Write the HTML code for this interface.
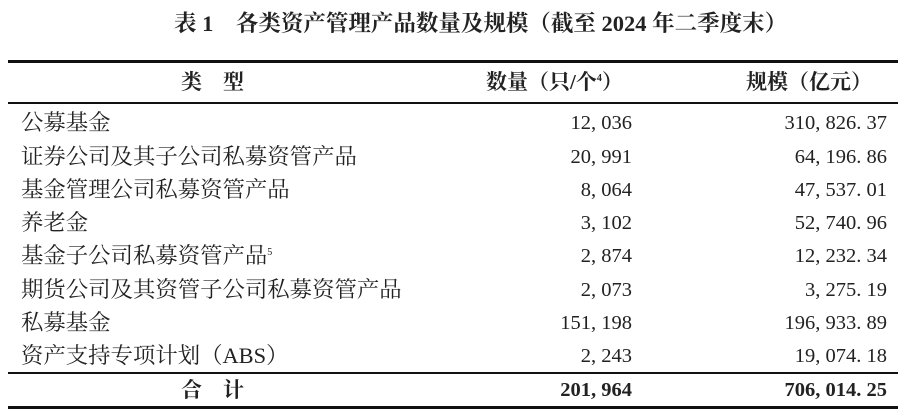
<!DOCTYPE html>
<html><head><meta charset="utf-8"><style>
body{margin:0;width:908px;height:420px;background:#fff;overflow:hidden;position:relative;font-family:"Liberation Serif","Noto Serif CJK SC",serif;color:#222}
.t{position:absolute;white-space:nowrap;font-size:22.4px;line-height:24px}
.r{text-align:right;font-size:20.5px}
.b{font-weight:bold}
.ln{position:absolute;left:8px;width:890px;background:#111}
sup{font-size:10px;vertical-align:top;position:relative;top:-3px}
</style></head><body>
<div class="t b" style="left:174px;top:11px;font-size:22.5px;line-height:26px">表 1　各类资产管理产品数量及规模（截至 2024 年二季度末）</div>
<div class="ln" style="top:60px;height:3px"></div>
<div class="t b" style="left:181px;top:70px;font-size:21px">类　型</div>
<div class="t b" style="left:486px;top:70px;font-size:21px">数量（只/个<sup>4</sup>）</div>
<div class="t b" style="left:746px;top:70px;font-size:21px">规模（亿元）</div>
<div class="ln" style="top:102px;height:1.5px"></div>

<div class="t" style="left:21px;top:111px">公募基金</div>
<div class="t r" style="right:276px;top:111px">12, 036</div>
<div class="t r" style="right:21px;top:111px">310, 826. 37</div>

<div class="t" style="left:21px;top:145px">证券公司及其子公司私募资管产品</div>
<div class="t r" style="right:276px;top:145px">20, 991</div>
<div class="t r" style="right:21px;top:145px">64, 196. 86</div>

<div class="t" style="left:21px;top:178px">基金管理公司私募资管产品</div>
<div class="t r" style="right:276px;top:178px">8, 064</div>
<div class="t r" style="right:21px;top:178px">47, 537. 01</div>

<div class="t" style="left:21px;top:211px">养老金</div>
<div class="t r" style="right:276px;top:211px">3, 102</div>
<div class="t r" style="right:21px;top:211px">52, 740. 96</div>

<div class="t" style="left:21px;top:244px">基金子公司私募资管产品<sup>5</sup></div>
<div class="t r" style="right:276px;top:244px">2, 874</div>
<div class="t r" style="right:21px;top:244px">12, 232. 34</div>

<div class="t" style="left:21px;top:278px">期货公司及其资管子公司私募资管产品</div>
<div class="t r" style="right:276px;top:278px">2, 073</div>
<div class="t r" style="right:21px;top:278px">3, 275. 19</div>

<div class="t" style="left:21px;top:311px">私募基金</div>
<div class="t r" style="right:276px;top:311px">151, 198</div>
<div class="t r" style="right:21px;top:311px">196, 933. 89</div>

<div class="t" style="left:21px;top:344px">资产支持专项计划（ABS）</div>
<div class="t r" style="right:276px;top:344px">2, 243</div>
<div class="t r" style="right:21px;top:344px">19, 074. 18</div>

<div class="ln" style="top:372px;height:1.5px"></div>
<div class="t b" style="left:181px;top:378px;font-size:21px">合　计</div>
<div class="t r b" style="right:276px;top:378px">201, 964</div>
<div class="t r b" style="right:21px;top:378px">706, 014. 25</div>
<div class="ln" style="top:406px;height:3px"></div>
</body></html>
